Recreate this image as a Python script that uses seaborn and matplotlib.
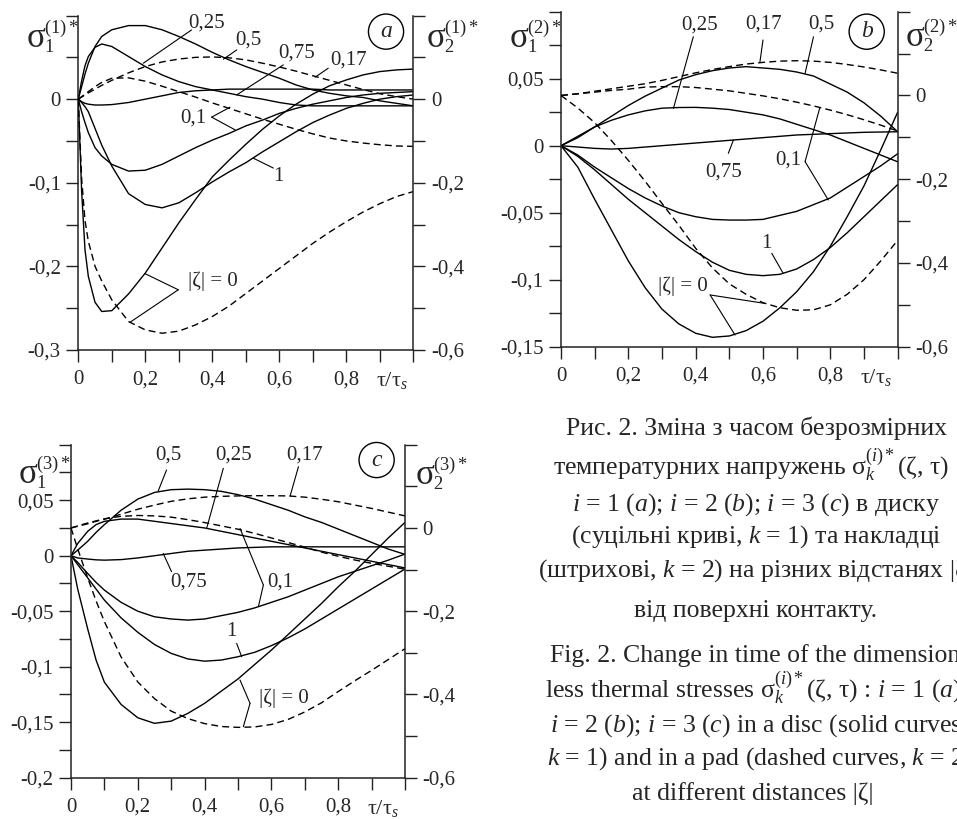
import matplotlib
matplotlib.use("Agg")
import matplotlib.pyplot as plt
import seaborn as sns

sns.set_style("ticks")
plt.rcParams['font.family'] = ['Liberation Serif', 'DejaVu Serif']
plt.rcParams['mathtext.fontset'] = 'custom'
plt.rcParams['mathtext.rm'] = 'Liberation Serif'
plt.rcParams['mathtext.it'] = 'Liberation Serif:italic'
plt.rcParams['mathtext.bf'] = 'Liberation Serif:bold'

# ---- panel (a), i = 1 ----
tau_a = [0, 0.01, 0.02, 0.03, 0.05, 0.07, 0.1, 0.15, 0.2, 0.25, 0.3, 0.35, 0.4,
         0.45, 0.5, 0.55, 0.6, 0.65, 0.7, 0.75, 0.8, 0.85, 0.9, 0.95, 1.0]
a_disc = {
    '0': [0, -0.11, -0.18, -0.212, -0.243, -0.254, -0.253, -0.233, -0.208, -0.178, -0.148, -0.12, -0.093,
          -0.073, -0.054, -0.036, -0.02, -0.006, 0.006, 0.016, 0.023, 0.029, 0.033, 0.035, 0.036],
    '0.1': [0, -0.015, -0.028, -0.04, -0.058, -0.068, -0.078, -0.086, -0.085, -0.078, -0.068, -0.058, -0.049,
            -0.041, -0.032, -0.025, -0.017, -0.011, -0.006, -0.002, 0.002, 0.005, 0.007, 0.008, 0.009],
    '1': [0, -0.004, -0.009, -0.015, -0.035, -0.055, -0.08, -0.113, -0.126, -0.13, -0.124, -0.112, -0.099,
          -0.087, -0.076, -0.063, -0.051, -0.039, -0.028, -0.019, -0.011, -0.005, 0.0, 0.003, 0.005],
    '0.25': [0, 0.022, 0.04, 0.051, 0.062, 0.066, 0.063, 0.051, 0.039, 0.029, 0.021, 0.015, 0.011,
             0.007, 0.003, 0.0, -0.004, -0.007, -0.008, -0.008, -0.008, -0.008, -0.008, -0.008, -0.008],
    '0.5': [0, 0.015, 0.03, 0.043, 0.063, 0.075, 0.083, 0.088, 0.088, 0.083, 0.075, 0.066, 0.056,
            0.047, 0.039, 0.032, 0.025, 0.017, 0.011, 0.007, 0.004, 0.002, -0.002, -0.005, -0.008],
    '0.75': [0, -0.003, -0.005, -0.006, -0.007, -0.007, -0.0065, -0.004, 0.0, 0.004, 0.008, 0.01, 0.011,
             0.012, 0.012, 0.012, 0.012, 0.012, 0.012, 0.011, 0.011, 0.011, 0.011, 0.011, 0.011],
}
a_pad = {
    '0': [0, -0.19, -0.29, -0.34, -0.4, -0.435, -0.48, -0.532, -0.552, -0.56, -0.555, -0.54, -0.52,
          -0.495, -0.465, -0.435, -0.405, -0.375, -0.345, -0.318, -0.293, -0.27, -0.25, -0.233, -0.221],
    '0.1': [0, 0.006, 0.012, 0.018, 0.03, 0.04, 0.05, 0.051, 0.043, 0.031, 0.018, 0.005, -0.009,
            -0.022, -0.035, -0.048, -0.06, -0.072, -0.083, -0.093, -0.1, -0.105, -0.109, -0.112, -0.113],
    '0.17': [0, 0.005, 0.01, 0.015, 0.024, 0.033, 0.045, 0.063, 0.078, 0.089, 0.096, 0.1, 0.101,
             0.099, 0.094, 0.086, 0.077, 0.067, 0.056, 0.045, 0.034, 0.023, 0.013, 0.006, 0.0],
}

# ---- panel (b), i = 2 ----
tau_b = [0, 0.05, 0.1, 0.15, 0.2, 0.25, 0.3, 0.35, 0.4, 0.45, 0.5,
         0.55, 0.6, 0.65, 0.7, 0.75, 0.8, 0.85, 0.9, 0.95, 1.0]
b_disc = {
    '0': [0, -0.016, -0.04, -0.063, -0.086, -0.106, -0.122, -0.133, -0.14, -0.143, -0.142,
          -0.138, -0.131, -0.121, -0.109, -0.094, -0.075, -0.053, -0.03, -0.003, 0.025],
    '1': [0, -0.008, -0.018, -0.029, -0.04, -0.05, -0.06, -0.07, -0.079, -0.087, -0.093,
          -0.096, -0.097, -0.096, -0.092, -0.085, -0.076, -0.065, -0.053, -0.041, -0.029],
    '0.1': [0, -0.007, -0.016, -0.024, -0.032, -0.039, -0.045, -0.05, -0.053, -0.055, -0.0555,
            -0.0555, -0.055, -0.052, -0.049, -0.044, -0.039, -0.031, -0.023, -0.015, -0.006],
    '0.25': [0, 0.007, 0.014, 0.019, 0.023, 0.026, 0.028, 0.0285, 0.0286, 0.028, 0.027,
             0.025, 0.023, 0.02, 0.016, 0.012, 0.008, 0.003, -0.002, -0.007, -0.012],
    '0.5': [0, 0.006, 0.014, 0.022, 0.03, 0.037, 0.043, 0.049, 0.053, 0.056, 0.058,
            0.059, 0.058, 0.057, 0.055, 0.052, 0.046, 0.04, 0.032, 0.022, 0.0104],
    '0.75': [0, -0.001, -0.002, -0.0025, -0.002, -0.001, 0.0, 0.001, 0.002, 0.003, 0.004,
             0.005, 0.006, 0.007, 0.008, 0.0085, 0.009, 0.0095, 0.01, 0.0102, 0.0104],
}
b_pad = {
    '0': [0, -0.03, -0.065, -0.108, -0.155, -0.205, -0.258, -0.31, -0.365, -0.412, -0.45,
          -0.475, -0.495, -0.507, -0.513, -0.512, -0.5, -0.475, -0.44, -0.395, -0.346],
    '0.1': [0, 0.004, 0.008, 0.012, 0.015, 0.02, 0.021, 0.021, 0.019, 0.015, 0.011,
            0.005, -0.001, -0.008, -0.016, -0.025, -0.035, -0.046, -0.058, -0.071, -0.085],
    '0.17': [0, 0.004, 0.01, 0.016, 0.022, 0.028, 0.036, 0.045, 0.054, 0.062, 0.069,
             0.075, 0.079, 0.082, 0.083, 0.082, 0.079, 0.074, 0.068, 0.061, 0.053],
}

# ---- panel (c), i = 3 ----
tau_c = [0, 0.02, 0.05, 0.075, 0.1, 0.15, 0.2, 0.25, 0.3, 0.35, 0.4, 0.45, 0.5,
         0.55, 0.6, 0.65, 0.7, 0.75, 0.8, 0.85, 0.9, 0.95, 1.0]
c_disc = {
    '0': [0, -0.03, -0.066, -0.094, -0.114, -0.134, -0.146, -0.151, -0.149, -0.142, -0.133, -0.122, -0.111,
          -0.098, -0.085, -0.071, -0.057, -0.043, -0.028, -0.014, 0.001, 0.016, 0.03],
    '0.1': [0, -0.006, -0.016, -0.024, -0.031, -0.042, -0.05, -0.055, -0.057, -0.058, -0.057, -0.054, -0.051,
            -0.047, -0.042, -0.037, -0.031, -0.025, -0.019, -0.014, -0.009, -0.004, 0.0015],
    '1': [0, -0.008, -0.02, -0.03, -0.04, -0.056, -0.069, -0.08, -0.088, -0.093, -0.095, -0.094, -0.091,
          -0.087, -0.081, -0.074, -0.066, -0.057, -0.048, -0.039, -0.03, -0.021, -0.012],
    '0.25': [0, 0.011, 0.022, 0.028, 0.031, 0.033, 0.033, 0.031, 0.029, 0.027, 0.025, 0.022, 0.019,
             0.016, 0.013, 0.01, 0.007, 0.004, 0.001, -0.002, -0.005, -0.008, -0.011],
    '0.5': [0, 0.005, 0.013, 0.021, 0.028, 0.041, 0.051, 0.057, 0.0595, 0.06, 0.0595, 0.058, 0.055,
            0.051, 0.046, 0.041, 0.035, 0.03, 0.024, 0.018, 0.012, 0.006, 0.0012],
    '0.75': [0, -0.002, -0.003, -0.0037, -0.004, -0.0035, -0.002, 0.0, 0.002, 0.004, 0.005, 0.006, 0.007,
             0.0075, 0.008, 0.008, 0.008, 0.008, 0.008, 0.008, 0.008, 0.008, 0.008],
}
c_pad = {
    '0': [0, -0.05, -0.12, -0.175, -0.225, -0.31, -0.37, -0.41, -0.44, -0.458, -0.47, -0.477, -0.479,
          -0.478, -0.472, -0.46, -0.442, -0.42, -0.393, -0.367, -0.342, -0.316, -0.29],
    '0.1': [0, 0.005, 0.012, 0.017, 0.022, 0.028, 0.03, 0.029, 0.026, 0.02, 0.013, 0.005, -0.003,
            -0.013, -0.024, -0.035, -0.046, -0.058, -0.068, -0.077, -0.085, -0.092, -0.099],
    '0.17': [0, 0.004, 0.01, 0.016, 0.021, 0.033, 0.045, 0.055, 0.064, 0.07, 0.074, 0.076, 0.077,
             0.0775, 0.0775, 0.077, 0.074, 0.069, 0.063, 0.055, 0.047, 0.038, 0.029],
}

x_ticklabels = ['0', '0,2', '0,4', '0,6', '0,8']
right_ticks = [0, -0.2, -0.4, -0.6]
right_ticklabels = ['0', '-0,2', '-0,4', '-0,6']

W, H = 957.0, 819.0
FS = 15
TL = 8.6   # tick length, pt


def sigma_label(x, y, k, idx):
    # big sigma plus smaller sub/superscripts, x/y in pixels (baseline)
    fig.text(x / W, 1 - y / H, 'σ', fontsize=25, ha='left', va='baseline')
    fig.text((x + 17) / W, 1 - y / H, '$_%d^{(%d)*}$' % (k, idx), fontsize=19,
             ha='left', va='baseline')


def draw_panel(rect, tau, disc, pad, ylim, yticks, yticklabels, yminor, idx, letter,
               letter_xy, sig_left, sig_right, labels, leaders):
    ax = fig.add_axes(rect)
    ax2 = ax.twinx()
    for v in disc.values():
        sns.lineplot(x=tau, y=v, ax=ax, color='black', linewidth=1.0)
    for v in pad.values():
        sns.lineplot(x=tau, y=v, ax=ax2, color='black', linewidth=1.0,
                     linestyle=(0, (5, 3)))
    ax.set_xlim(0, 1)
    ax.set_ylim(*ylim)
    ax2.set_ylim(-0.6, 0.2)
    ax.set_xticks([0, 0.2, 0.4, 0.6, 0.8])
    ax.set_xticklabels(x_ticklabels)
    ax.set_xticks([0.1 * k for k in range(11)], minor=True)
    ax.set_yticks(yticks)
    ax.set_yticklabels(yticklabels)
    ax.set_yticks(yminor, minor=True)
    ax2.set_yticks(right_ticks)
    ax2.set_yticklabels(right_ticklabels)
    ax2.set_yticks([0.2, 0.1, -0.1, -0.3, -0.5], minor=True)
    for a in (ax, ax2):
        a.tick_params(which='both', direction='out', length=TL, width=1.0,
                      labelsize=FS, pad=4, color='#222222')
        a.set_xlabel('')
        a.set_ylabel('')
        for s in a.spines.values():
            s.set_linewidth(1.1)
            s.set_color('#222222')
    ax.tick_params(axis='x', which='both', pad=6)
    ax.spines['top'].set_visible(False)
    ax.spines['right'].set_visible(False)
    for s in ('top', 'left', 'bottom'):
        ax2.spines[s].set_visible(False)

    ax.annotate('τ/τ$_s$', xy=(0.935, 0), xycoords=('data', 'axes fraction'),
                xytext=(0, -TL - 6), textcoords='offset points',
                ha='center', va='top', fontsize=FS + 1)
    sigma_label(sig_left[0], sig_left[1], 1, idx)
    sigma_label(sig_right[0], sig_right[1], 2, idx)
    ax.text(letter_xy[0], letter_xy[1], letter, style='italic', ha='center', va='center',
            fontsize=FS + 2,
            bbox=dict(boxstyle='circle,pad=0.3', fc='white', ec='black', lw=1.0))
    for t, x, y in labels:
        ax.text(x, y, t, ha='center', va='center', fontsize=FS)
    for p0, p1 in leaders:
        ax.annotate('', xy=p1, xytext=p0,
                    arrowprops=dict(arrowstyle='-', lw=0.8, color='black',
                                    shrinkA=0, shrinkB=0))
    return ax


fig = plt.figure(figsize=(9.57, 8.19), dpi=100)

draw_panel([0.0818, 0.5727, 0.3501, 0.4083], tau_a, a_disc, a_pad, (-0.3, 0.1),
           [0, -0.1, -0.2, -0.3], ['0', '-0,1', '-0,2', '-0,3'],
           [0.1, 0.05, -0.05, -0.15, -0.25], 1, 'a', (0.9185, 0.0808),
           (27, 47), (427, 47),
           [('0,25', 0.383, 0.0908), ('0,5', 0.507, 0.0708), ('0,75', 0.652, 0.055),
            ('0,17', 0.806, 0.047), ('0,1', 0.343, -0.0227), ('1', 0.597, -0.0925),
            ('|ζ| = 0', 0.403, -0.218)],
           [((0.338, 0.0828), (0.194, 0.043)), ((0.473, 0.0589), (0.433, 0.0478)),
            ((0.612, 0.041), (0.473, 0.0051)), ((0.746, 0.037), (0.707, 0.0263)),
            ((0.398, -0.0215), (0.453, -0.0096)), ((0.398, -0.0215), (0.468, -0.0367)),
            ((0.582, -0.0824), (0.522, -0.0705)), ((0.2985, -0.228), (0.199, -0.2087)),
            ((0.2985, -0.228), (0.154, -0.267))])

draw_panel([0.5862, 0.5767, 0.3518, 0.409], tau_b, b_disc, b_pad, (-0.15, 0.1),
           [0.05, 0, -0.05, -0.1, -0.15], ['0,05', '0', '-0,05', '-0,1', '-0,15'],
           [0.1, 0.075, 0.025, -0.025, -0.075, -0.125], 2, 'b', (0.908, 0.0851),
           (510, 47), (906, 46),
           [('0,25', 0.413, 0.090), ('0,17', 0.601, 0.0908), ('0,5', 0.774, 0.0908),
            ('0,75', 0.482, -0.0194), ('0,1', 0.675, -0.0107), ('1', 0.611, -0.0729),
            ('|ζ| = 0', 0.363, -0.105)],
           [((0.393, 0.0813), (0.334, 0.0279)), ((0.6, 0.0789), (0.591, 0.0627)),
            ((0.75, 0.0813), (0.725, 0.054)), ((0.497, -0.0057), (0.512, 0.0042)),
            ((0.725, -0.0119), (0.769, 0.0286)), ((0.725, -0.0119), (0.794, -0.0405)),
            ((0.626, -0.0803), (0.66, -0.0953)), ((0.443, -0.1114), (0.606, -0.1177)),
            ((0.443, -0.1114), (0.517, -0.1413))])

draw_panel([0.0742, 0.0504, 0.349, 0.4066], tau_c, c_disc, c_pad, (-0.2, 0.1),
           [0.05, 0, -0.05, -0.1, -0.15, -0.2], ['0,05', '0', '-0,05', '-0,1', '-0,15', '-0,2'],
           [0.1, 0.075, 0.025, -0.025, -0.075, -0.125, -0.175], 3, 'c', (0.915, 0.0862),
           (19, 483), (416, 484),
           [('0,5', 0.291, 0.0907), ('0,25', 0.486, 0.0907), ('0,17', 0.7, 0.0907),
            ('0,75', 0.351, -0.0234), ('0,1', 0.626, -0.0234), ('1', 0.481, -0.0685),
            ('|ζ| = 0', 0.636, -0.1285)],
           [((0.286, 0.0772), (0.261, 0.0583)), ((0.456, 0.0787), (0.406, 0.0246)),
            ((0.681, 0.0802), (0.656, 0.0538)), ((0.301, -0.0144), (0.276, 0.0021)),
            ((0.576, -0.0264), (0.506, 0.0246)), ((0.576, -0.0264), (0.561, -0.0459)),
            ((0.496, -0.079), (0.511, -0.091)), ((0.536, -0.133), (0.506, -0.112)),
            ((0.536, -0.133), (0.516, -0.154))])

# caption (Ukrainian and English), baseline y in pixels from top
caption = [
    ('Рис. 2. Зміна з часом безрозмірних', 756, 435, 'center'),
    ('температурних напружень σ$_k^{(i)*}$(ζ, τ) :', 553, 475, 'left'),
    ('$i$ = 1 ($a$); $i$ = 2 ($b$); $i$ = 3 ($c$) в диску', 756, 511, 'center'),
    ('(суцільні криві, $k$ = 1) та накладці', 756, 543, 'center'),
    ('(штрихові, $k$ = 2) на різних відстанях |ζ|', 538, 577, 'left'),
    ('від поверхні контакту.', 756, 617, 'center'),
    ('Fig. 2. Change in time of the dimension-', 550, 662, 'left'),
    ('less thermal stresses σ$_k^{(i)*}$(ζ, τ) : $i$ = 1 ($a$);', 545, 698, 'left'),
    ('$i$ = 2 ($b$); $i$ = 3 ($c$) in a disc (solid curves,', 550, 732, 'left'),
    ('$k$ = 1) and in a pad (dashed curves, $k$ = 2)', 547, 765, 'left'),
    ('at different distances |ζ|', 753, 800, 'center'),
]
for txt, x, y, ha in caption:
    fig.text(x / W, 1 - y / H, txt, ha=ha, va='baseline', fontsize=18.5)

fig.savefig('out.png', dpi=100)
